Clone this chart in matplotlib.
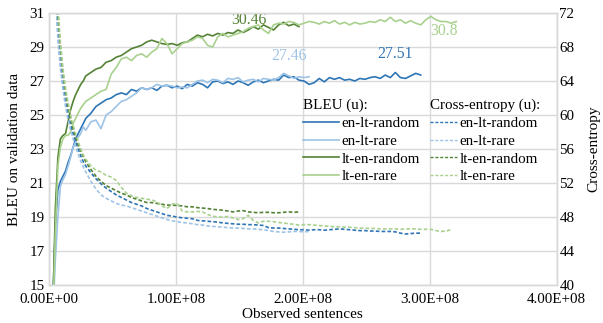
import numpy as np
import matplotlib
matplotlib.use("Agg")
import matplotlib.pyplot as plt
from matplotlib.lines import Line2D

plt.rcParams['font.family'] = ['Liberation Serif', 'DejaVu Serif']

# ---- data (x in units of 1e8 observed sentences) ----
x_early = [0.03, 0.05, 0.07, 0.09, 0.11, 0.13, 0.15, 0.17, 0.19, 0.21, 0.23, 0.25, 0.27, 0.29]
x_main = np.round(np.arange(0.33, 3.25, 0.04), 2).tolist()
x_all = np.array(x_early + x_main)

series_names = ["en-lt-random", "en-lt-rare", "lt-en-random", "lt-en-rare"]
colors = ["#2E75B6", "#9DC3E6", "#548235", "#A9D18E"]

bleu_en_lt_random = [14.0, 18.5, 20.6, 21.1, 21.4, 21.7, 22.2, 22.6, 23.1, 23.6, 23.9, 24.2, 24.5, 24.8,
    25.1, 25.5, 25.7, 25.9, 26.0, 26.2, 26.3, 26.2, 26.5, 26.4,
    26.6, 26.5, 26.6, 26.45, 26.7, 26.75, 26.6, 26.7, 26.55, 26.8,
    26.7, 26.9, 26.8, 26.6, 26.95, 27.0, 26.85, 26.95, 26.8, 27.0,
    26.9, 26.75, 26.95, 27.05, 26.9, 27.0, 27.1, 27.05, 27.35, 27.2,
    27.25, 27.05, 27.0, 26.8, 26.9, 27.15, 26.95, 27.2, 27.1, 27.2,
    27.05, 27.1, 27.0, 27.15, 27.1, 27.2, 27.25, 27.15, 27.35, 27.2,
    27.5, 27.2, 27.15, 27.3, 27.45, 27.35]
bleu_en_lt_rare = [13.0, 16.5, 19.0, 20.8, 21.2, 21.5, 22.0, 22.5, 23.1, 23.4, 23.7, 23.9, 24.3, 24.1,
    24.6, 24.7, 24.2, 25.0, 25.2, 25.5, 25.8, 25.9, 26.1, 26.3,
    26.6, 26.5, 26.6, 26.8, 26.7, 26.75, 26.7, 26.6, 26.65, 26.6,
    26.8, 27.0, 27.05, 26.9, 27.1, 27.05, 26.9, 27.15, 27.1, 27.2,
    26.95, 27.05, 27.1, 26.95, 27.15, 27.1, 27.05, 27.2, 27.45, 27.3,
    27.15, 27.25, 27.2, 27.25]
bleu_lt_en_random = [13.5, 19.5, 22.5, 23.6, 23.8, 23.9, 24.6, 25.3, 25.8, 26.2, 26.5, 26.8, 27.0, 27.3,
    27.5, 27.7, 27.8, 28.1, 28.2, 28.4, 28.5, 28.7, 28.9, 29.0,
    29.1, 29.3, 29.4, 29.3, 29.2, 29.15, 29.2, 29.1, 29.25, 29.3,
    29.5, 29.7, 29.6, 29.75, 29.65, 29.8, 29.7, 29.85, 29.8, 30.0,
    29.85, 30.0, 30.2, 30.05, 30.3, 30.15, 30.0, 30.3, 30.45, 30.25,
    30.35, 30.2]
bleu_lt_en_rare = [13.0, 18.0, 22.0, 23.1, 23.6, 23.8, 23.8, 24.0, 24.5, 24.8, 25.1, 25.4, 25.6, 25.8,
    26.0, 26.2, 26.4, 26.5, 27.4, 27.8, 28.3, 28.4, 28.2, 28.5,
    28.6, 28.4, 28.7, 28.9, 29.5, 29.2, 28.6, 28.9, 29.2, 29.3,
    29.4, 29.6, 29.5, 29.1, 29.0, 29.6, 29.8, 29.6, 29.7, 29.8,
    29.9, 30.1, 30.2, 30.3, 30.0, 29.8, 30.3, 30.4, 30.35, 30.5,
    30.45, 30.3, 30.4, 30.5, 30.45, 30.35, 30.5, 30.4, 30.55, 30.35,
    30.45, 30.3, 30.45, 30.35, 30.4, 30.5, 30.45, 30.6, 30.5, 30.75,
    30.5, 30.6, 30.4, 30.55, 30.4, 30.3, 30.6, 30.8, 30.6, 30.5,
    30.5, 30.4, 30.5]

ce_en_lt_random = [85, 76, 69.5, 66.0, 63.5, 61.5, 60.0, 58.8, 57.8, 56.9, 56.0, 55.2, 54.5, 54.0,
    53.2, 52.5, 51.9, 51.4, 51.0, 50.6, 50.3, 50.0, 49.7, 49.5,
    49.3, 49.0, 48.8, 48.6, 48.4, 48.2, 48.1, 48.0, 47.9, 47.85,
    47.8, 47.6, 47.55, 47.5, 47.45, 47.4, 47.3, 47.25, 47.2, 47.15,
    47.15, 47.1, 47.1, 47.05, 47.0, 46.75, 46.7, 46.7, 46.65, 46.6,
    46.55, 46.5, 46.5, 46.45, 46.5, 46.5, 46.45, 46.5, 46.55, 46.6,
    46.55, 46.5, 46.45, 46.4, 46.4, 46.35, 46.35, 46.3, 46.3, 46.3,
    46.25, 46.1, 46.0, 46.05, 46.1, 46.1]
ce_en_lt_rare = [84, 75, 69.0, 65.5, 63.0, 61.0, 59.5, 58.2, 57.2, 56.3, 55.4, 54.6, 53.9, 53.3,
    52.2, 51.3, 50.6, 50.2, 49.9, 49.6, 49.4, 49.3, 49.1, 48.9,
    48.7, 48.5, 48.3, 48.1, 47.9, 47.7, 47.55, 47.45, 47.35, 47.3,
    47.2, 47.1, 47.05, 46.95, 46.9, 46.85, 46.8, 46.75, 46.7, 46.7,
    46.65, 46.6, 46.6, 46.55, 46.5, 46.4, 46.3, 46.25, 46.2, 46.25,
    46.3, 46.3, 46.25, 46.3]
ce_lt_en_random = [90, 80, 72.0, 68.0, 65.0, 62.8, 61.0, 59.6, 58.4, 57.4, 56.5, 55.8, 55.1, 54.5,
    53.6, 52.8, 52.2, 51.7, 51.4, 51.1, 50.8, 50.6, 50.3, 50.1,
    49.9, 49.7, 49.7, 49.6, 49.5, 49.4, 49.4, 49.35, 49.3, 49.2,
    49.2, 49.1, 49.05, 49.0, 48.9, 48.85, 48.8, 48.7, 48.6, 48.7,
    48.75, 48.6, 48.55, 48.5, 48.55, 48.55, 48.5, 48.5, 48.55, 48.6,
    48.55, 48.6]
ce_lt_en_rare = [92, 82, 73.0, 68.5, 65.5, 63.2, 61.5, 60.0, 58.8, 57.8, 56.9, 56.0, 55.3, 54.8,
    54.0, 53.5, 53.3, 52.9, 52.7, 52.3, 51.5, 50.8, 50.5, 50.3,
    50.2, 50.1, 50.0, 49.8, 49.3, 49.0, 49.5, 49.6, 48.7, 48.6,
    48.6, 48.65, 48.6, 48.3, 48.1, 48.0, 48.0, 48.05, 47.9, 47.7,
    47.8, 48.2, 47.6, 47.3, 47.5, 47.5, 47.45, 47.35, 47.3, 47.2,
    47.15, 47.05, 47.1, 47.1, 47.05, 47.0, 46.95, 46.9, 46.85, 46.85,
    46.8, 46.8, 46.75, 46.7, 46.7, 46.65, 46.65, 46.6, 46.6, 46.6,
    46.6, 46.55, 46.6, 46.6, 46.6, 46.55, 46.55, 46.55, 46.4, 46.3,
    46.35, 46.5]

bleu_series = [bleu_en_lt_random, bleu_en_lt_rare, bleu_lt_en_random, bleu_lt_en_rare]
ce_series = [ce_en_lt_random, ce_en_lt_rare, ce_lt_en_random, ce_lt_en_rare]

# final-value annotations: (text, x [1e8], BLEU y, series index)
annotations = [("30.46", 1.577, 30.6, 2), ("27.46", 1.89, 28.5, 1),
               ("27.51", 2.73, 28.6, 0), ("30.8", 3.11, 29.95, 3)]

x_ticks = [0, 1e8, 2e8, 3e8, 4e8]
x_ticklabels = ["0.00E+00", "1.00E+08", "2.00E+08", "3.00E+08", "4.00E+08"]
bleu_ticks = [15, 17, 19, 21, 23, 25, 27, 29, 31]
ce_ticks = [40, 44, 48, 52, 56, 60, 64, 68, 72]

# ---- figure ----
W, H = 603, 323
fig = plt.figure(figsize=(W / 100, H / 100), dpi=100)
L, R, T, B = 49, 556.5, 13, 285
ax = fig.add_axes([L / W, 1 - B / H, (R - L) / W, (B - T) / H])
ax2 = ax.twinx()

grid_c = "#D9D9D9"
FS = 10.8

for vals, c in zip(bleu_series, colors):
    ax.plot(x_all[:len(vals)] * 1e8, vals, color=c, lw=1.2, solid_joinstyle='round')
for vals, c in zip(ce_series, colors):
    ax2.plot(x_all[:len(vals)] * 1e8, vals, color=c, lw=1.2, dashes=(2.2, 1.3))

for txt, xv, yv, i in annotations:
    ax.text(xv * 1e8, yv, txt, color=colors[i], fontsize=11.3, ha='center', va='center')

ax.set_xlim(0, 4e8)
ax.set_ylim(15, 31)
ax2.set_ylim(40, 72)
ax.set_xticks(x_ticks)
ax.set_xticklabels(x_ticklabels)
ax.set_yticks(bleu_ticks)
ax2.set_yticks(ce_ticks)
ax.grid(True, color=grid_c, lw=1.0)
ax.set_axisbelow(True)
for a in (ax, ax2):
    for s in a.spines.values():
        s.set_color(grid_c)
        s.set_linewidth(1.0)
ax.tick_params(axis='both', length=0, labelsize=FS)
ax.tick_params(axis='y', pad=3)
ax.tick_params(axis='x', pad=5.5)
ax2.tick_params(axis='y', length=0, labelsize=FS, pad=2)

ax.set_xlabel("Observed sentences", fontsize=11, labelpad=1.5)
ax.set_ylabel("BLEU on validation data", fontsize=11)
ax.yaxis.set_label_coords(-0.055, 0.5)
ax2.set_ylabel("Cross-entropy", fontsize=11)
ax2.yaxis.set_label_coords(1.06, 0.5)

# legends
LFS = 10.8
anchor_y = 1 - (99 - T) / (B - T)
h1 = [Line2D([], [], color=c, lw=1.2) for c in colors]
h2 = [Line2D([], [], color=c, lw=1.0, dashes=(2.2, 1.3)) for c in colors]
leg1 = ax2.legend(h1, series_names, title="BLEU (u):", loc='upper left',
                  bbox_to_anchor=((303 - L) / (R - L), anchor_y),
                  frameon=False, fontsize=LFS, title_fontsize=LFS, alignment='left',
                  handlelength=2.4, handletextpad=0.15, labelspacing=0.28, borderpad=0,
                  borderaxespad=0)
ax2.add_artist(leg1)
leg2 = ax2.legend(h2, series_names, title="Cross-entropy (u):", loc='upper left',
                  bbox_to_anchor=((430 - L) / (R - L), anchor_y),
                  frameon=False, fontsize=LFS, title_fontsize=LFS, alignment='left',
                  handlelength=1.8, handletextpad=0.15, labelspacing=0.28, borderpad=0,
                  borderaxespad=0)

fig.savefig("out.png", dpi=100)
